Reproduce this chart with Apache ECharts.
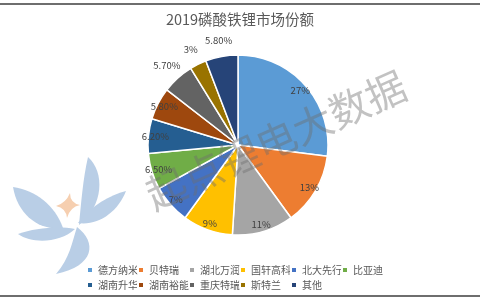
<!DOCTYPE html>
<html><head><meta charset="utf-8">
<script src="https://cdn.jsdelivr.net/npm/echarts@6/dist/echarts.min.js"></script>
<style>
html,body{margin:0;padding:0;background:#fff;}
#wrap{position:relative;width:480px;height:300px;overflow:hidden;background:#fff;}
#chart{position:absolute;left:0;top:0;width:480px;height:300px;}
.ln{position:absolute;left:0;width:480px;height:2px;background:#6e6e6e;}
</style></head>
<body><div id="wrap"><div id="chart"></div><div class="ln" style="top:3px"></div><div class="ln" style="top:295px"></div></div>
<script>
const categories = ['德方纳米','贝特瑞','湖北万润','国轩高科','北大先行','比亚迪','湖南升华','湖南裕能','重庆特瑞','斯特兰','其他'];
const values = [27, 13, 11, 9, 7, 6.5, 6.2, 5.8, 5.7, 3, 5.8];
const valueLabels = ['27%','13%','11%','9%','7%','6.50%','6.20%','5.80%','5.70%','3%','5.80%'];
const outsideLabel = [false,false,false,false,false,false,false,false,true,true,true];
const colors = ['#5B9BD5','#ED7D31','#A5A5A5','#FFC000','#4472C4','#70AD47','#255E91','#9E480E','#636363','#997300','#264478'];
const titleText = '2019磷酸铁锂市场份额';
const watermark = '起点锂电大数据';

const FONT = '"Noto Sans CJK SC","Noto Sans",sans-serif';
const chart = echarts.init(document.getElementById('chart'), null, {renderer:'canvas'});

// logo decoration shapes
const logoPaths = [
  'M88,157 C105,172 104,206 79,225 C81,205 83,178 88,157 Z',
  'M78,223 C92,205 110,195 126,191 C118,212 98,226 78,223 Z',
  'M13,187 C35,190 55,205 63,228 C40,231 18,216 13,187 Z',
  'M18,234 C35,228 58,226 75,229 C60,243 32,244 18,234 Z',
  'M77,227 C97,242 95,266 56,274 C70,258 72,242 77,227 Z'
];
const logoStar = 'M70,193 Q70,203 80,205 Q70,207 67,218 Q66,208 56,206 Q66,203 70,193 Z';
const logoChildren = [];
try {
  logoPaths.concat([logoStar]).forEach((d,i)=>{
    const Cls = echarts.graphic.extendPath(d, {});
    echarts.graphic.registerShape('logoP'+i, Cls);
    logoChildren.push({type:'logoP'+i, style:{fill: i<logoPaths.length ? '#b9cee6' : '#f6cfb0'}});
  });
} catch(e) { console.log(e); }

const mainData = categories.map((n,i)=>({name:n,value:values[i],itemStyle:{color:colors[i]}}));
function labelData(outside){
  return categories.map((n,i)=>({name:n,value:values[i],
    label:{show: outsideLabel[i]===outside, formatter: valueLabels[i]}}));
}
const labelBase = {
  type:'pie', center:[238,145], startAngle:90, clockwise:true, silent:true,
  itemStyle:{color:'rgba(0,0,0,0)', borderWidth:0},
  labelLine:{show:false}, emphasis:{disabled:true}, legendHoverLink:false,
  label:{position:'inside', color:'#404040', fontSize:9.5, fontFamily:FONT},
  animation:false, z:3
};
chart.setOption({
  animation:false,
  backgroundColor:'#fff',
  color: colors,
  title:{text:titleText, left:'center', top:7,
    textStyle:{color:'#595959', fontSize:14.5, fontWeight:'normal', fontFamily:FONT}},
  legend:{data:categories, left:81, top:257, width:335, icon:'rect', itemWidth:6, itemHeight:6, itemGap:-1,
    textStyle:{color:'#595959', fontSize:10, width:40, lineHeight:16, fontFamily:FONT}},
  graphic:[
    {type:'group', z:-1, silent:true, children:logoChildren},
    {type:'text', z:100, silent:true, x:276, y:140, rotation:24*Math.PI/180,
      style:{text:watermark, fontSize:40, fontFamily:FONT, fill:'rgba(110,110,110,0.42)', align:'center', verticalAlign:'middle'}}
  ],
  series:[
    {type:'pie', name:'main', center:[238,145], radius:[0,90], startAngle:90, clockwise:true,
     data:mainData, label:{show:false}, labelLine:{show:false},
     itemStyle:{borderColor:'#fff', borderWidth:1.5}, emphasis:{disabled:true}, z:2},
    Object.assign({}, labelBase, {name:'lblIn', radius:[68,92], data:labelData(false)}),
    Object.assign({}, labelBase, {name:'lblOut', radius:[92,115], data:labelData(true)})
  ]
});
</script></body></html>
